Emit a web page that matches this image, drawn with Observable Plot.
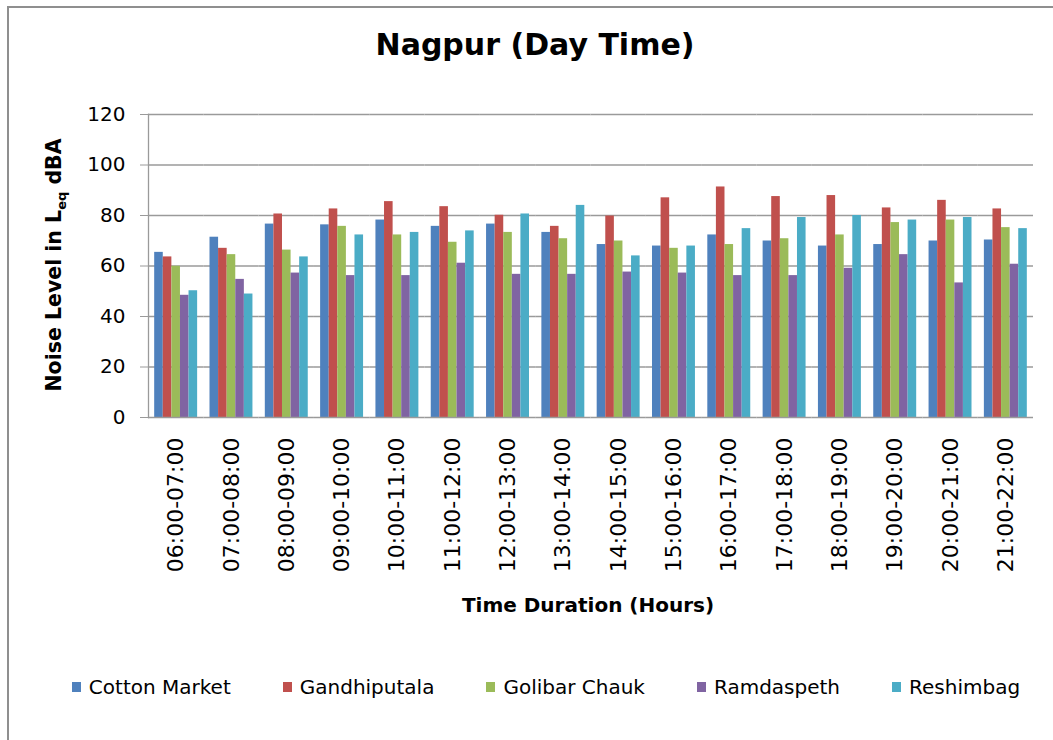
<!DOCTYPE html>
<html>
<head>
<meta charset="utf-8">
<script src="https://cdn.jsdelivr.net/npm/d3@7"></script>
<script src="https://cdn.jsdelivr.net/npm/@observablehq/plot@0.6"></script>
<style>
  html, body { margin: 0; padding: 0; background: #fff; }
  #chart { position: relative; width: 1053px; height: 740px; overflow: hidden; font-family: "DejaVu Sans", Verdana, sans-serif; background: #fff; }
  #border { position: absolute; left: 7px; top: 6px; width: 1100px; height: 800px; border: 2px solid #8f8f8f; box-sizing: border-box; }
  #title { position: absolute; left: 0; width: 1070px; top: 28px; text-align: center; font-weight: bold; font-size: 30px; line-height: 34px; color: #000; }
  #plot { position: absolute; left: 0; top: 0; }
  #ytitle { position: absolute; left: 55px; top: 265px; transform: translate(-50%, -50%) rotate(-90deg); white-space: nowrap; font-weight: bold; font-size: 20.5px; color: #000; }
  #ytitle sub { font-size: 13px; vertical-align: -5px; }
  #xtitle { position: absolute; left: 148px; width: 880px; top: 592px; text-align: center; font-weight: bold; font-size: 20px; line-height: 26px; color: #000; }
  #legend { position: absolute; left: 0; width: 1092px; top: 675px; display: flex; justify-content: center; gap: 52px; font-size: 20px; line-height: 24px; color: #000; }
  .item { display: flex; align-items: center; white-space: nowrap; }
  .sw { width: 9px; height: 10px; margin-right: 8px; }
</style>
</head>
<body>
<div id="chart">
  <div id="border"></div>
  <div id="title">Nagpur (Day Time)</div>
  <div id="ytitle">Noise Level in L<sub>eq</sub> dBA</div>
  <div id="xtitle">Time Duration (Hours)</div>
  <div id="legend"></div>
</div>
<script>
const times = ["06:00-07:00","07:00-08:00","08:00-09:00","09:00-10:00","10:00-11:00","11:00-12:00","12:00-13:00","13:00-14:00","14:00-15:00","15:00-16:00","16:00-17:00","17:00-18:00","18:00-19:00","19:00-20:00","20:00-21:00","21:00-22:00"];
const series = ["Cotton Market","Gandhiputala","Golibar Chauk","Ramdaspeth","Reshimbag"];
const colors = ["#4F81BD","#C0504D","#9BBB59","#8064A2","#4BACC6"];
const cottonMarket = [65.4,71.4,76.6,76.3,78.2,75.7,76.6,73.3,68.5,67.9,72.3,69.9,67.9,68.5,69.9,70.3];
const gandhiputala = [63.6,67.0,80.6,82.6,85.5,83.5,80.1,75.7,79.8,87.0,91.3,87.5,87.9,83.0,86.0,82.6];
const golibarChauk = [59.9,64.5,66.3,75.7,72.3,69.4,73.3,70.8,69.9,67.0,68.5,70.8,72.3,77.2,78.2,75.2];
const ramdaspeth   = [48.4,54.7,57.2,56.2,56.2,61.1,56.7,56.7,57.6,57.2,56.2,56.2,59.1,64.5,53.3,60.7];
const reshimbag    = [50.2,48.9,63.6,72.3,73.3,73.9,80.6,84.0,64.0,67.9,74.8,79.2,80.0,78.2,79.2,74.8];
const yTicks = [0,20,40,60,80,100,120];

const seriesValues = [cottonMarket, gandhiputala, golibarChauk, ramdaspeth, reshimbag];
const rows = [];
times.forEach((t, i) => series.forEach((s, j) => rows.push({time: t, series: s, value: seriesValues[j][i]})));

const plot = Plot.plot({
  width: 1053,
  height: 580,
  marginTop: 114,
  marginBottom: 163,
  marginLeft: 148,
  marginRight: 20,
  style: {fontFamily: "'DejaVu Sans', Verdana, sans-serif", background: "transparent", color: "#000"},
  fx: {domain: times, paddingInner: 0, paddingOuter: 0, round: false, axis: null, label: null},
  x: {domain: series, paddingInner: 0, paddingOuter: 0.72, round: false, axis: null},
  y: {domain: [0, 120], axis: null, label: null},
  color: {domain: series, range: colors},
  marks: [
    Plot.ruleY(yTicks.filter(d => d > 0), {stroke: "#9a9a9a", strokeWidth: 1.3}),
    Plot.barY(rows, {fx: "time", x: "series", y: "value", fill: "series"}),
    Plot.ruleY([0], {stroke: "#9a9a9a", strokeWidth: 1.3}),
    Plot.frame({anchor: "left", facetAnchor: "left", stroke: "#9a9a9a", strokeWidth: 1.3}),
    Plot.axisY({ticks: yTicks, tickSize: 8, tickPadding: 15, fontSize: 20, label: null, stroke: "#9a9a9a", fill: "#000"}),
    Plot.axisFx({anchor: "bottom", tickRotate: -90, tickSize: 0, tickPadding: 20, fontSize: 22, label: null, fill: "#000"})
  ]
});
plot.id = "plot";
document.getElementById("chart").insertBefore(plot, document.getElementById("title"));

const legend = d3.select("#legend");
series.forEach((s, i) => {
  const it = legend.append("div").attr("class", "item");
  it.append("div").attr("class", "sw").style("background", colors[i]);
  it.append("span").text(s);
});
</script>
</body>
</html>
